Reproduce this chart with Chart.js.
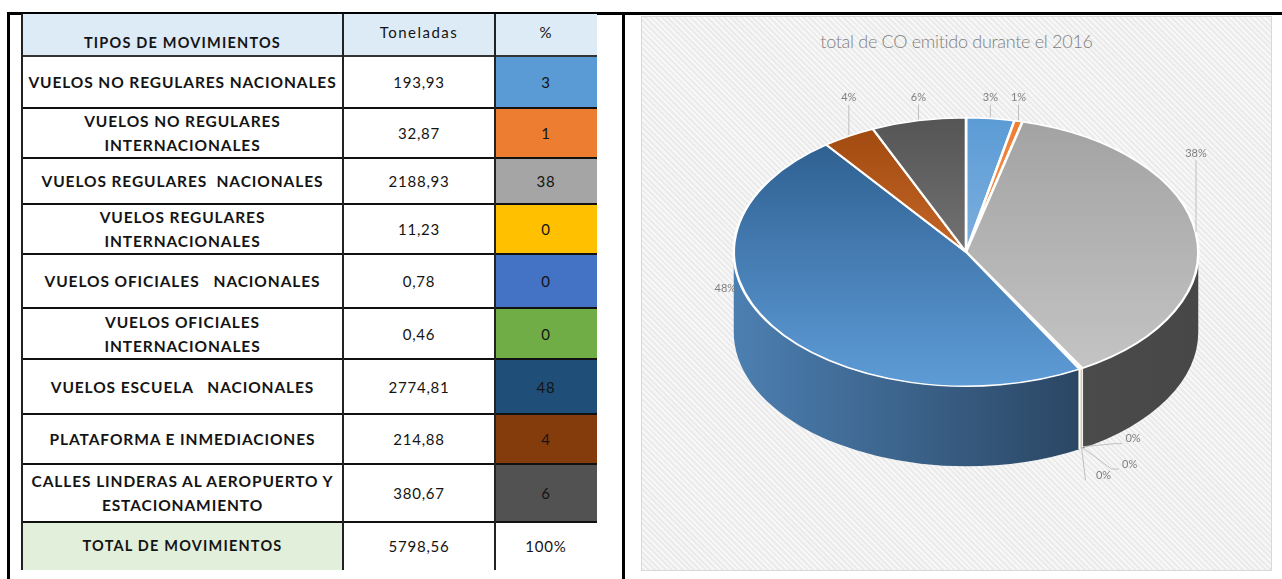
<!DOCTYPE html>
<html>
<head>
<meta charset="utf-8">
<script src="https://cdn.jsdelivr.net/npm/chart.js@4.4.0/dist/chart.umd.min.js"></script>
<style>
  body { margin: 0; width: 1282px; height: 579px; background: #fff; position: relative; overflow: hidden; font-family: Lato, "Open Sans", sans-serif; }
  .linea { position: absolute; background: #000; }
  .celda { position: absolute; box-sizing: border-box; display: flex; align-items: center; justify-content: center; text-align: center; color: #141414; white-space: pre; }
  .tipo { font-weight: bold; font-size: 15.5px; line-height: 24px; letter-spacing: 0.9px; }
  .num { font-size: 15px; letter-spacing: 0.8px; }
  #caja { position: absolute; left: 641px; top: 16px; width: 631px; height: 555px; box-sizing: border-box; border: 1px solid #d9d9d9;
    background: repeating-linear-gradient(45deg, #ebebeb 0 2px, #f7f7f7 2px 4px); }
  #titulo { position: absolute; left: 641px; top: 30px; width: 631px; text-align: center; font-size: 18px; letter-spacing: -0.3px; color: #7f7f7f; font-weight: 300; }
  #co-chart { position: absolute; left: 641px; top: 16px; }
</style>
</head>
<body>
<div class="linea" style="left:7px;top:12px;width:1275px;height:3px"></div>
<div class="linea" style="left:7px;top:12px;width:3px;height:567px"></div>
<div class="linea" style="left:622px;top:12px;width:3px;height:567px"></div>
<div id="tabla"></div>
<div id="caja"></div>
<div id="titulo">total de CO emitido durante el 2016</div>
<canvas id="co-chart" width="631" height="555"></canvas>
<script>
// datos
var tipos = [
  "VUELOS NO REGULARES NACIONALES",
  "VUELOS NO REGULARES\nINTERNACIONALES",
  "VUELOS REGULARES  NACIONALES",
  "VUELOS REGULARES\nINTERNACIONALES",
  "VUELOS OFICIALES   NACIONALES",
  "VUELOS OFICIALES\nINTERNACIONALES",
  "VUELOS ESCUELA   NACIONALES",
  "PLATAFORMA E INMEDIACIONES",
  "CALLES LINDERAS AL AEROPUERTO Y\nESTACIONAMIENTO"
];
var toneladas = [193.93, 32.87, 2188.93, 11.23, 0.78, 0.46, 2774.81, 214.88, 380.67];
var toneladasTexto = ["193,93", "32,87", "2188,93", "11,23", "0,78", "0,46", "2774,81", "214,88", "380,67"];
var porcentajes = [3, 1, 38, 0, 0, 0, 48, 4, 6];
var totalTexto = "5798,56";

// colores
var coloresTabla = ['#5B9BD5', '#ED7D31', '#A5A5A5', '#FFC000', '#4472C4', '#70AD47', '#1F4E79', '#843C0C', '#525252'];
var coloresArriba = [
  ['#5B9BD5', '#9DC3E6'], ['#ED7D31', '#F4B183'], ['#A2A2A2', '#C6C6C6'],
  ['#FFC000', '#FFD966'], ['#4472C4', '#8FAADC'], ['#70AD47', '#A9D18E'],
  ['#2A5A8A', '#5E9CD7'], ['#9E480E', '#E9833F'], ['#555555', '#8E8E8E']
];
var coloresLado = [
  ['#3F6E9A', '#2A4A6A'], ['#B85E22', '#8A4416'], ['#555555', '#474747'],
  ['#C79600', '#9E7700'], ['#335896', '#253F6C'], ['#55853A', '#3E6229'],
  ['#4C7FB1', '#1F3349'], ['#7A370A', '#5A2808'], ['#3E3E3E', '#2E2E2E']
];

// tabla
var tabla = document.getElementById('tabla');
var colX = [22, 343, 495, 597];
var altos = [52, 50, 46, 50, 54, 51, 55, 50, 58];
function celda(x, y, w, h, txt, cls, estilo) {
  var d = document.createElement('div');
  d.className = 'celda ' + cls;
  d.style.cssText = 'left:' + x + 'px;top:' + y + 'px;width:' + w + 'px;height:' + h + 'px;' + (estilo || '');
  d.textContent = txt;
  tabla.appendChild(d);
}
var y = 14;
celda(colX[0], y, colX[1] - colX[0], 42, 'TIPOS DE MOVIMIENTOS', 'tipo', 'background:#DDEBF7;align-items:flex-end;padding-bottom:1px;font-size:14.5px;letter-spacing:1.2px');
celda(colX[1], y, colX[2] - colX[1], 42, 'Toneladas', 'num', 'background:#DDEBF7;align-items:flex-start;padding-top:9px;letter-spacing:1.5px');
celda(colX[2], y, colX[3] - colX[2], 42, '%', 'num', 'background:#DDEBF7;align-items:flex-start;padding-top:9px');
y += 42;
for (var i = 0; i < tipos.length; i++) {
  celda(colX[0], y, colX[1] - colX[0], altos[i], tipos[i], 'tipo');
  celda(colX[1], y, colX[2] - colX[1], altos[i], toneladasTexto[i], 'num');
  celda(colX[2], y, colX[3] - colX[2], altos[i], String(porcentajes[i]), 'num', 'background:' + coloresTabla[i]);
  y += altos[i];
}
celda(colX[0], y, colX[1] - colX[0], 570 - y, 'TOTAL DE MOVIMIENTOS', 'tipo', 'background:#E2EFDA;font-size:14.5px;letter-spacing:1.2px');
celda(colX[1], y, colX[2] - colX[1], 570 - y, totalTexto, 'num');
celda(colX[2], y, colX[3] - colX[2], 570 - y, '100%', 'num');

// lineas de la tabla
function linea(x, y, w, h, color) {
  var d = document.createElement('div');
  d.className = 'linea';
  d.style.cssText = 'left:' + x + 'px;top:' + y + 'px;width:' + w + 'px;height:' + h + 'px;background:' + color;
  tabla.appendChild(d);
}
y = 56;
linea(colX[0], y - 1, colX[3] - colX[0], 2, '#333');
for (i = 0; i < altos.length; i++) {
  y += altos[i];
  linea(colX[0], y - 1, colX[3] - colX[0], 2, '#111');
}
linea(21, 14, 2, 556, '#222');
linea(342, 14, 2, 556, '#222');
linea(494, 14, 2, 556, '#222');

// pastel 3D
var ESTIRAR = 1.73;
var PROFUNDIDAD = 80;

var pie3d = {
  id: 'pie3d',
  beforeDatasetsDraw: function(chart) {
    var c = chart.ctx;
    var arcs = chart.getDatasetMeta(0).data;
    var cx = arcs[0].x, cy = arcs[0].y, r = arcs[0].outerRadius;
    c.save();
    c.translate(cx, cy); c.scale(ESTIRAR, 1); c.translate(-cx, -cy);
    arcs.forEach(function(arc, i) {
      var a1 = Math.max(arc.startAngle, 0), a2 = Math.min(arc.endAngle, Math.PI);
      if (a2 <= a1) return;
      var g = c.createLinearGradient(cx - r, 0, cx + r, 0);
      g.addColorStop(0, coloresLado[i][0]);
      g.addColorStop(1, coloresLado[i][1]);
      c.beginPath();
      c.moveTo(cx + r * Math.cos(a1), cy + r * Math.sin(a1));
      c.arc(cx, cy, r, a1, a2);
      c.lineTo(cx + r * Math.cos(a2), cy + r * Math.sin(a2) + PROFUNDIDAD);
      c.arc(cx, cy + PROFUNDIDAD, r, a2, a1, true);
      c.closePath();
      c.fillStyle = g;
      c.fill();
    });
    // bordes blancos en el lado
    c.strokeStyle = 'rgba(255,255,255,0.9)';
    c.lineWidth = 1;
    arcs.forEach(function(arc) {
      var a = arc.startAngle;
      if (a > 0 && a < Math.PI) {
        c.beginPath();
        c.moveTo(cx + r * Math.cos(a), cy + r * Math.sin(a));
        c.lineTo(cx + r * Math.cos(a), cy + r * Math.sin(a) + PROFUNDIDAD);
        c.stroke();
      }
    });
  },
  afterDatasetsDraw: function(chart) {
    var c = chart.ctx;
    c.restore();
    var arcs = chart.getDatasetMeta(0).data;
    var cx = arcs[0].x, cy = arcs[0].y, r = arcs[0].outerRadius;
    var rx = r * ESTIRAR, ry = r;
    c.save();
    c.font = '11px Lato, sans-serif';
    c.fillStyle = '#7f7f7f';
    c.strokeStyle = '#bfbfbf';
    c.lineWidth = 1;
    c.textAlign = 'center';
    c.textBaseline = 'middle';
    var ceros = 0;
    var abanico = [[52, -10], [50, 15], [24, 26]];
    arcs.forEach(function(arc, i) {
      var m = (arc.startAngle + arc.endAngle) / 2;
      var cos = Math.cos(m), sin = Math.sin(m);
      var ax = cx + rx * cos, ay = cy + ry * sin + (sin > 0 ? PROFUNDIDAD : 0);
      var txt = porcentajes[i] + '%';
      var lx, ly;
      if (porcentajes[i] === 0) {
        var o = abanico[ceros++];
        lx = ax + o[0]; ly = ay + o[1];
        c.beginPath();
        c.moveTo(ax + 2, ay - 2);
        c.lineTo(lx - 18, ly + 5);
        if (o[0] > 30) c.lineTo(lx - 11, ly + 5);
        c.stroke();
      } else if (sin < 0) {
        // etiqueta arriba con linea vertical hasta el borde
        lx = ax;
        ly = sin < -0.85 ? cy - ry - 20 : ay - 80;
        c.beginPath();
        c.moveTo(ax, ly + 7);
        c.lineTo(ax, ay - 1);
        c.stroke();
      } else {
        lx = cx + (rx + 55) * cos;
        ly = cy + ry * sin * 0.5;
      }
      c.fillText(txt, lx, ly);
    });
    c.restore();
  }
};

var ctx = document.getElementById('co-chart').getContext('2d');
var myChart = new Chart(ctx, {
  type: 'pie',
  data: {
    labels: tipos,
    datasets: [{
      data: toneladas,
      backgroundColor: function(context) {
        var area = context.chart.chartArea;
        var par = coloresArriba[context.dataIndex];
        if (!area) return par[0];
        var g = context.chart.ctx.createLinearGradient(0, area.top, 0, area.bottom);
        g.addColorStop(0, par[0]);
        g.addColorStop(1, par[1]);
        return g;
      },
      borderColor: '#ffffff',
      borderWidth: 1.5,
      clip: false
    }]
  },
  options: {
    responsive: false,
    animation: false,
    layout: { padding: { top: 101, bottom: 184, left: 190, right: 171 } },
    plugins: {
      legend: { display: false },
      tooltip: { enabled: false }
    }
  },
  plugins: [pie3d]
});
</script>
</body>
</html>
